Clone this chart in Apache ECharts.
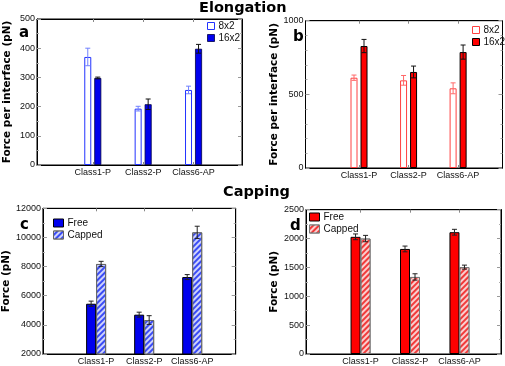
<!DOCTYPE html>
<html><head><meta charset="utf-8">
<script src="https://cdn.jsdelivr.net/npm/echarts@6/dist/echarts.min.js"></script>
<style>html,body{margin:0;padding:0;background:#fff}#c{width:505px;height:366px}</style>
</head><body><div id="c"></div>
<script>
const categories = ['Class1-P', 'Class2-P', 'Class6-AP'];
const catPos = [1, 2, 3];
// Panel a: Elongation, blue
const a8 = [370, 193, 257];
const a8Err = [30, 8, 13];
const a16 = [298, 208, 398];
const a16Err = [3, 18, 15];
// Panel b: Elongation, red
const b8 = [613, 595, 541];
const b8Err = [18, 33, 37];
const b16 = [828, 652, 787];
const b16Err = [45, 40, 48];
// Panel c: Capping, blue
const cFree = [5450, 4700, 7280];
const cFreeErr = [180, 170, 170];
const cCap = [8180, 4330, 10350];
const cCapErr = [180, 300, 420];
// Panel d: Capping, red
const dFree = [2030, 1820, 2110];
const dFreeErr = [50, 50, 50];
const dCap = [2000, 1335, 1505];
const dCapErr = [55, 55, 35];
// y axis tick ranges
const yTicksA = [0, 100, 200, 300, 400, 500];
const yTicksB = [0, 500, 1000];
const yTicksC = [2000, 4000, 6000, 8000, 10000, 12000];
const yTicksD = [0, 500, 1000, 1500, 2000, 2500];

const FONT = 'Liberation Sans';
const chart = echarts.init(document.getElementById('c'), null, {renderer: 'canvas'});

const panels = [
  {grid: {left: 37, top: 19, width: 205, height: 146}, xmin: -0.107, xmax: 3.962, yt: yTicksA, minor: 2,
   yname: 'Force per interface (pN)', nameGap: 24, letter: 'a', letterPos: [24, 34],
   series: [
     {name: '8x2', data: a8, err: a8Err, off: -5, color: '#ffffff', border: '#2233ff', errColor: '#7080ff', bw: 1},
     {name: '16x2', data: a16, err: a16Err, off: 5, color: '#0000ee', border: '#000044', errColor: '#111', bw: 0.8}
   ], barWidth: 7, barGap: '43%',
   legend: {left: 207, top: 21}},
  {grid: {left: 305.5, top: 20.7, width: 197, height: 147.3}, xmin: -0.08, xmax: 3.896, yt: yTicksB, minor: 5,
   yname: 'Force per interface (pN)', nameGap: 24, letter: 'b', letterPos: [298, 38],
   series: [
     {name: '8x2', data: b8, err: b8Err, off: -5, color: '#ffffff', border: '#ff4040', errColor: '#ff6a6a', bw: 1},
     {name: '16x2', data: b16, err: b16Err, off: 5, color: '#ff0000', border: '#000', errColor: '#111', bw: 1}
   ], barWidth: 7, barGap: '43%',
   legend: {left: 472, top: 25}},
  {grid: {left: 40.7, top: 208.3, width: 195, height: 147.4}, xmin: -0.107, xmax: 3.905, yt: yTicksC, minor: 2,
   yname: 'Force (pN)', nameGap: 30, letter: 'c', letterPos: [25, 226],
   series: [
     {name: 'Free', data: cFree, err: cFreeErr, off: -5, color: '#0000ee', border: '#000', errColor: '#222', bw: 1},
     {name: 'Capped', data: cCap, err: cCapErr, off: 5, color: '#3a4cf5', border: '#666', errColor: '#222', bw: 1, hatch: true}
   ], barWidth: 10, barGap: '0%',
   legend: {left: 53, top: 218}},
  {grid: {left: 306, top: 209.7, width: 195, height: 147.3}, xmin: -0.103, xmax: 3.84, yt: yTicksD, minor: 2,
   yname: 'Force (pN)', nameGap: 26, letter: 'd', letterPos: [295, 227],
   series: [
     {name: 'Free', data: dFree, err: dFreeErr, off: -5, color: '#ff0000', border: '#000', errColor: '#222', bw: 1},
     {name: 'Capped', data: dCap, err: dCapErr, off: 5, color: '#f03a3a', border: '#777', errColor: '#222', bw: 1, hatch: true}
   ], barWidth: 10, barGap: '0%',
   legend: {left: 309, top: 212}}
];

const option = {
  animation: false,
  backgroundColor: '#fff',
  grid: [], xAxis: [], yAxis: [], series: [], legend: [],
  graphic: [
    {type: 'text', style: {text: 'Elongation', font: 'bold 14.5px "DejaVu Sans"', fill: '#000'}, left: 199, top: 1},
    {type: 'text', style: {text: 'Capping', font: 'bold 14.5px "DejaVu Sans"', fill: '#000'}, left: 223, top: 185}
  ]
};

panels.forEach((p, i) => {
  option.grid.push(Object.assign({show: true, borderColor: '#000', borderWidth: 1, backgroundColor: 'transparent', containLabel: false}, p.grid));
  const ymin = p.yt[0], ymax = p.yt[p.yt.length - 1], yint = p.yt[1] - p.yt[0];
  const xBase = {type: 'value', gridIndex: i, min: p.xmin, max: p.xmax, splitLine: {show: false},
    axisLine: {show: true, onZero: false, lineStyle: {color: '#000', width: 1}}};
  option.xAxis.push(Object.assign({}, xBase, {position: 'bottom',
    axisTick: {show: true, inside: true, length: 3, customValues: catPos, lineStyle: {color: '#888'}},
    axisLabel: {show: true, customValues: catPos, margin: 3, fontSize: 9, fontFamily: FONT, color: '#111',
      formatter: v => categories[Math.round(v) - 1] || ''}}));
  option.xAxis.push(Object.assign({}, xBase, {position: 'top',
    axisTick: {show: true, inside: true, length: 3, customValues: catPos, lineStyle: {color: '#888'}},
    axisLabel: {show: false}}));
  const yBase = {type: 'value', gridIndex: i, min: ymin, max: ymax, interval: yint, splitLine: {show: false},
    axisLine: {show: true, onZero: false, lineStyle: {color: '#000', width: 1}},
    axisTick: {show: true, inside: true, length: 4, lineStyle: {color: '#999'}},
    minorTick: {show: true, splitNumber: p.minor, length: 2, lineStyle: {color: '#aaa'}}};
  option.yAxis.push(Object.assign({}, yBase, {position: 'left', name: p.yname, nameLocation: 'middle', nameGap: p.nameGap,
    nameTextStyle: {fontSize: 10.5, fontWeight: 'bold', fontFamily: 'DejaVu Sans', color: '#000'},
    axisLabel: {show: true, margin: 2, fontSize: 9, fontFamily: FONT, color: '#111', formatter: v => String(v)}}));
  option.yAxis.push(Object.assign({}, yBase, {position: 'right', axisLabel: {show: false}}));
  const xi = i * 2, yi = i * 2;
  const legendData = [];
  p.series.forEach((s, k) => {
    const itemStyle = {color: s.color, borderColor: s.border, borderWidth: s.bw};
    if (s.hatch) {
      itemStyle.decal = {symbol: 'rect', symbolSize: 1, dashArrayX: [1, 0], dashArrayY: [1.5, 1.5], rotation: -Math.PI / 4, color: 'rgba(255,255,255,0.75)'};
    }
    const sname = s.name + '#' + i;
    option.series.push({type: 'bar', name: sname, xAxisIndex: xi, yAxisIndex: yi,
      barWidth: p.barWidth, barGap: p.barGap, itemStyle: itemStyle, z: 2,
      data: s.data.map((v, j) => [catPos[j], v])});
    legendData.push({name: sname, itemStyle: Object.assign({}, itemStyle)});
    option.series.push({type: 'custom', name: 'err' + sname, xAxisIndex: xi, yAxisIndex: yi, z: 5,
      encode: {x: 0, y: 1},
      data: s.data.map((v, j) => [catPos[j], v, s.err[j]]),
      renderItem: (params, api) => {
        const x = api.value(0), y = api.value(1), e = api.value(2);
        const t = api.coord([x, y + e]), b = api.coord([x, y - e]);
        const cx = t[0] + s.off, hw = 2.5;
        const st = {stroke: s.errColor, lineWidth: 1};
        return {type: 'group', children: [
          {type: 'line', shape: {x1: cx, y1: t[1], x2: cx, y2: b[1]}, style: st},
          {type: 'line', shape: {x1: cx - hw, y1: t[1], x2: cx + hw, y2: t[1]}, style: st},
          {type: 'line', shape: {x1: cx - hw, y1: b[1], x2: cx + hw, y2: b[1]}, style: st}
        ]};
      }});
  });
  option.legend.push({orient: 'vertical', left: p.legend.left, top: p.legend.top, padding: 0, itemGap: 2,
    itemWidth: p.barWidth === 10 ? 10 : 7, itemHeight: p.barWidth === 10 ? 8 : 7, icon: 'rect',
    selectedMode: false,
    formatter: n => n.split('#')[0],
    textStyle: {fontSize: 10, fontFamily: FONT, color: '#111', lineHeight: 10, padding: [0, 0, 0, -1]},
    data: legendData});
  option.graphic.push({type: 'text', left: p.letterPos[0] - 5, top: p.letterPos[1] - 8,
    style: {text: p.letter, font: 'bold 15px "DejaVu Sans"', fill: '#000'}});
});

chart.setOption(option);
</script></body></html>
